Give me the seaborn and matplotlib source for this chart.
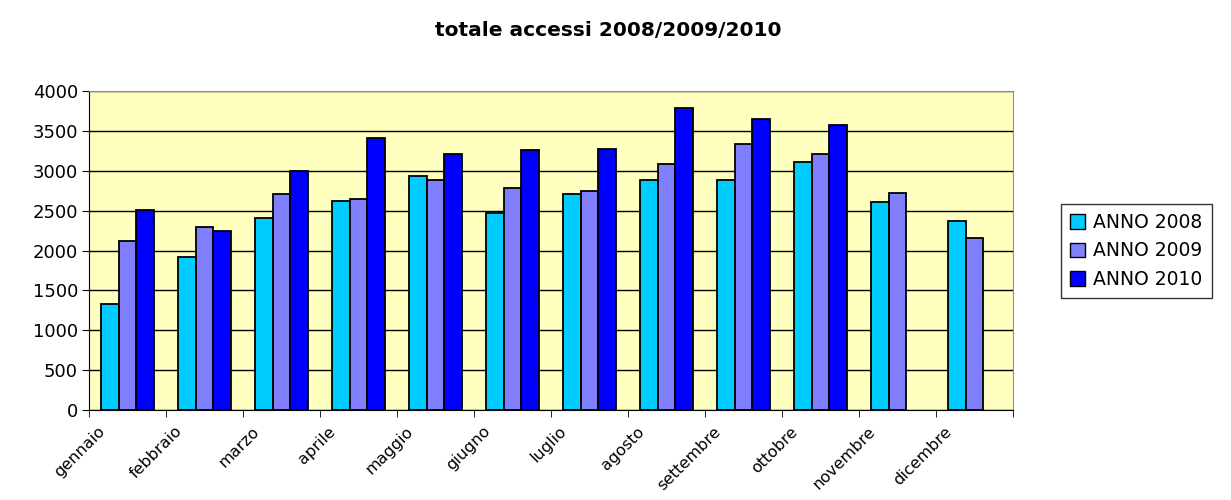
import matplotlib
matplotlib.use('Agg')
import matplotlib.pyplot as plt
import matplotlib.transforms as mtransforms
import seaborn as sns
import pandas as pd
import numpy as np

mesi = ['gennaio', 'febbraio', 'marzo', 'aprile', 'maggio', 'giugno',
        'luglio', 'agosto', 'settembre', 'ottobre', 'novembre', 'dicembre']
anni = ['ANNO 2008', 'ANNO 2009', 'ANNO 2010']
anno_2008 = [1330, 1920, 2410, 2625, 2940, 2470, 2710, 2885, 2880, 3115, 2610, 2370]
anno_2009 = [2120, 2300, 2710, 2650, 2880, 2785, 2745, 3080, 3335, 3215, 2725, 2155]
anno_2010 = [2510, 2250, 3000, 3410, 3215, 3255, 3275, 3785, 3645, 3570, np.nan, np.nan]

df = pd.DataFrame({'mese': mesi, anni[0]: anno_2008, anni[1]: anno_2009, anni[2]: anno_2010})
df = df.melt(id_vars='mese', var_name='anno', value_name='accessi')

colori = ['#00CCFF', '#8080FF', '#0000FF']

sns.set_style('white')
plt.rcParams['font.family'] = ['DejaVu Sans']
plt.rcParams['text.color'] = 'black'
plt.rcParams['xtick.color'] = 'black'
plt.rcParams['ytick.color'] = 'black'

fig = plt.figure(figsize=(12.31, 5), dpi=100)
ax = fig.add_axes([89 / 1231, 1 - 410 / 500, (1013 - 89) / 1231, (410 - 91) / 500])
ax.set_facecolor('#FFFFC0')

sns.barplot(data=df, x='mese', y='accessi', hue='anno', palette=colori,
            order=mesi, hue_order=anni, width=0.68, gap=0, saturation=1,
            errorbar=None, edgecolor='black', linewidth=1.3, ax=ax)

ax.set_ylim(0, 4000)
ax.set_xlim(-0.5, 11.5)
ax.set_yticks(np.arange(0, 4001, 500))
ax.yaxis.grid(True, color='black', linewidth=1)
ax.set_axisbelow(True)
ax.set_xlabel('')
ax.set_ylabel('')

for s in ['top', 'right']:
    ax.spines[s].set_color('#909090')
for s in ['left', 'bottom']:
    ax.spines[s].set_color('black')

ax.tick_params(axis='y', which='major', left=True, length=5, color='black',
               labelsize=13, pad=3)
ax.set_xticks(np.arange(-0.5, 12, 1), minor=True)
ax.tick_params(axis='x', which='minor', bottom=True, length=5, color='black')
ax.tick_params(axis='x', which='major', bottom=False, length=0, pad=0)
ax.set_xticks(range(len(mesi)))
ax.set_xticklabels(mesi, rotation=45, ha='right', va='center',
                   rotation_mode='anchor', fontsize=11.5)
offset = mtransforms.ScaledTranslation(-0.25, -0.19, fig.dpi_scale_trans)
for lab in ax.get_xticklabels():
    lab.set_transform(lab.get_transform() + offset)

fig.text(0.494, 0.94, 'totale accessi 2008/2009/2010', ha='center', va='center',
         fontsize=14.5, fontweight='bold')

leg = ax.legend(loc='center left', bbox_to_anchor=(1061 / 1231, 1 - 251 / 500),
                bbox_transform=fig.transFigure, frameon=True, fancybox=False,
                edgecolor='black', fontsize=13.5, handlelength=0.8, handleheight=0.8,
                handletextpad=0.4, borderpad=0.5, labelspacing=0.5, borderaxespad=0)
leg.get_frame().set_linewidth(1)
for h in leg.legend_handles:
    h.set_edgecolor('black')
    h.set_linewidth(1)

fig.savefig('out.png', dpi=100)
